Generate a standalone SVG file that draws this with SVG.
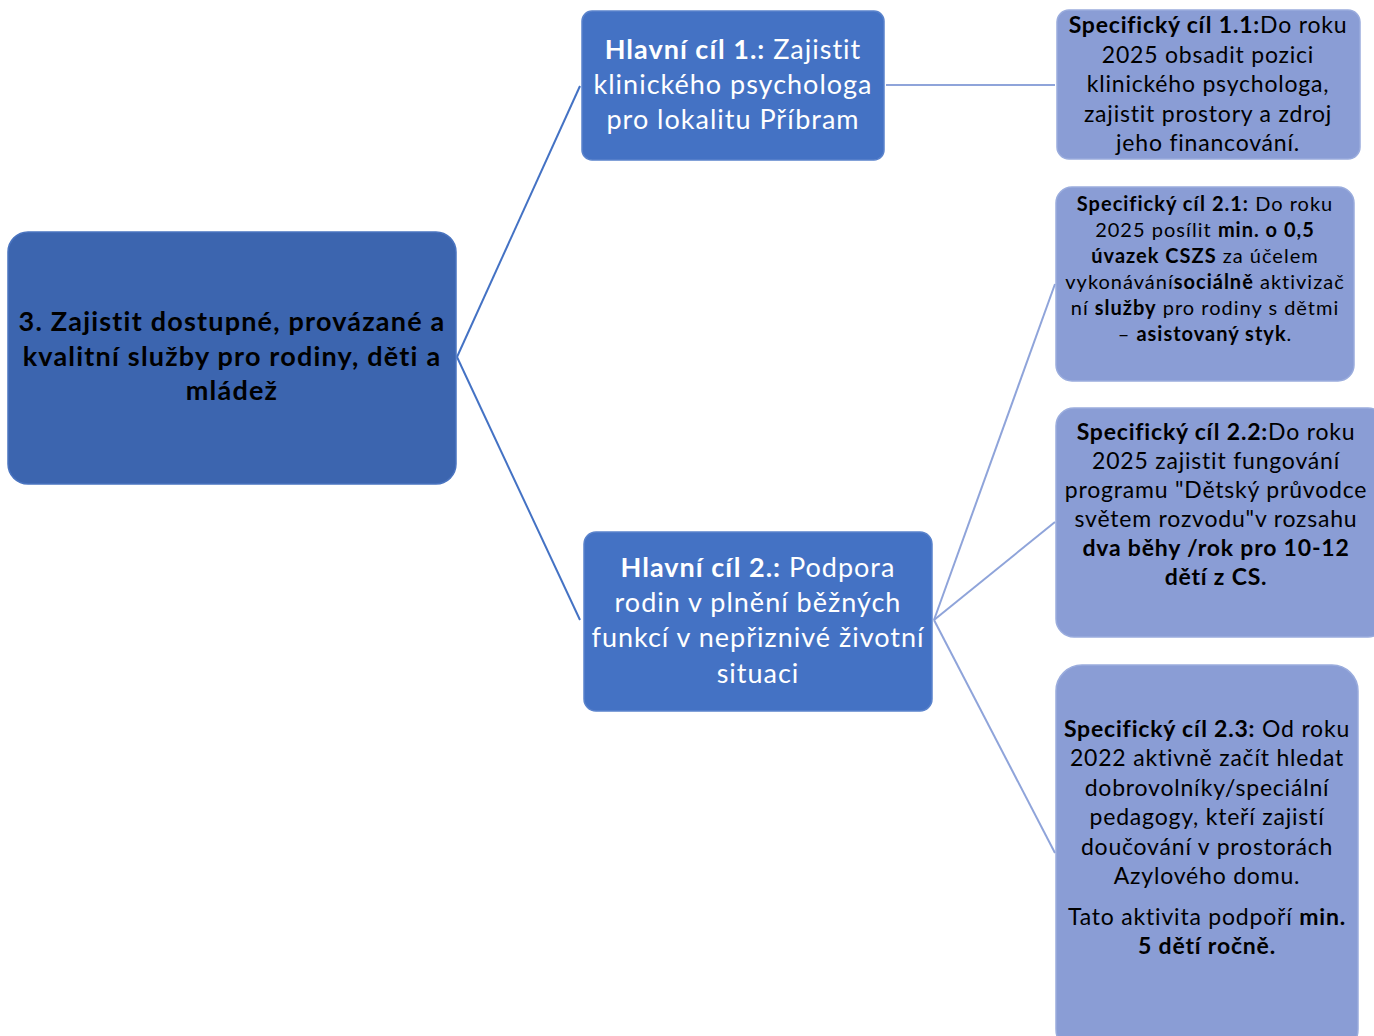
<svg xmlns="http://www.w3.org/2000/svg" width="1374" height="1036" viewBox="0 0 1374 1036">
<style>
text{font-family:Lato,"Liberation Sans","Noto Sans",sans-serif;text-anchor:middle;}
.b{font-weight:bold;}
.root rect{fill:#3C65AF;stroke:#4A74C0;stroke-width:1.5;}
.main rect{fill:#4472C4;stroke:#5A83CC;stroke-width:1.5;}
.spec rect{fill:#8A9DD5;stroke:#9AACDD;stroke-width:1.5;}
.root text{fill:#000;font-size:27px;font-weight:bold;letter-spacing:1.2px;}
.main text{fill:#fff;font-size:27px;letter-spacing:1px;}
.spec text{fill:#000;font-size:23px;letter-spacing:0.8px;}
.s21 text{font-size:20px;letter-spacing:1px;}
.c1{stroke:#4472C4;stroke-width:2;fill:none;}
.c2{stroke:#8FA4DA;stroke-width:2;fill:none;}
</style>
<rect width="1374" height="1036" fill="#fff"/>
<g id="connectors">
<path class="c1" d="M457 357 L580 86"/>
<path class="c1" d="M457 357 L580 620"/>
<path class="c2" d="M886 85 L1055 85"/>
<path class="c2" d="M934 620 L1055 284"/>
<path class="c2" d="M934 620 L1055 522"/>
<path class="c2" d="M934 620 L1055 853"/>
</g>
<g id="root" class="root">
<rect x="8" y="232" width="448" height="252" rx="20"/>
<text x="232" y="331">3. Zajistit dostupné, provázané a</text>
<text x="232" y="366">kvalitní služby pro rodiny, děti a</text>
<text x="232" y="400">mládež</text>
</g>
<g id="main1" class="main">
<rect x="582" y="11" width="302" height="149" rx="10"/>
<text x="733" y="59"><tspan class="b">Hlavní cíl 1.:</tspan> Zajistit</text>
<text x="733" y="94">klinického psychologa</text>
<text x="733" y="129">pro lokalitu Příbram</text>
</g>
<g id="main2" class="main">
<rect x="584" y="532" width="348" height="179" rx="12"/>
<text x="758" y="577"><tspan class="b">Hlavní cíl 2.:</tspan> Podpora</text>
<text x="758" y="612">rodin v plnění běžných</text>
<text x="758" y="647">funkcí v nepřiznivé životní</text>
<text x="758" y="683">situaci</text>
</g>
<g id="spec11" class="spec">
<rect x="1057" y="10" width="303" height="149" rx="12"/>
<text x="1208" y="33"><tspan class="b">Specifický cíl 1.1:</tspan>Do roku</text>
<text x="1208" y="63">2025 obsadit pozici</text>
<text x="1208" y="92">klinického psychologa,</text>
<text x="1208" y="122">zajistit prostory a zdroj</text>
<text x="1208" y="151">jeho financování.</text>
</g>
<g id="spec21" class="spec s21">
<rect x="1056" y="187" width="298" height="194" rx="16"/>
<text x="1205" y="211"><tspan class="b">Specifický cíl 2.1:</tspan> Do roku</text>
<text x="1205" y="237">2025 posílit <tspan class="b">min. o 0,5</tspan></text>
<text x="1205" y="263"><tspan class="b">úvazek CSZS</tspan> za účelem</text>
<text x="1205" y="289">vykonávání<tspan class="b">sociálně</tspan> aktivizač</text>
<text x="1205" y="315">ní <tspan class="b">služby</tspan> pro rodiny s dětmi</text>
<text x="1205" y="341">– <tspan class="b">asistovaný styk</tspan>.</text>
</g>
<g id="spec22" class="spec">
<rect x="1056" y="408" width="330" height="229" rx="18"/>
<text x="1216" y="440"><tspan class="b">Specifický cíl 2.2:</tspan>Do roku</text>
<text x="1216" y="469">2025 zajistit fungování</text>
<text x="1216" y="498">programu "Dětský průvodce</text>
<text x="1216" y="527">světem rozvodu"v rozsahu</text>
<text x="1216" y="556" class="b">dva běhy /rok pro 10-12</text>
<text x="1216" y="585" class="b">dětí z CS.</text>
</g>
<g id="spec23" class="spec">
<rect x="1056" y="665" width="302" height="390" rx="26"/>
<text x="1207" y="737"><tspan class="b">Specifický cíl 2.3:</tspan> Od roku</text>
<text x="1207" y="766">2022 aktivně začít hledat</text>
<text x="1207" y="796">dobrovolníky/speciální</text>
<text x="1207" y="825">pedagogy, kteří zajistí</text>
<text x="1207" y="855">doučování v prostorách</text>
<text x="1207" y="884">Azylového domu.</text>
<text x="1207" y="925">Tato aktivita podpoří <tspan class="b">min.</tspan></text>
<text x="1207" y="954" class="b">5 dětí ročně.</text>
</g>
</svg>
